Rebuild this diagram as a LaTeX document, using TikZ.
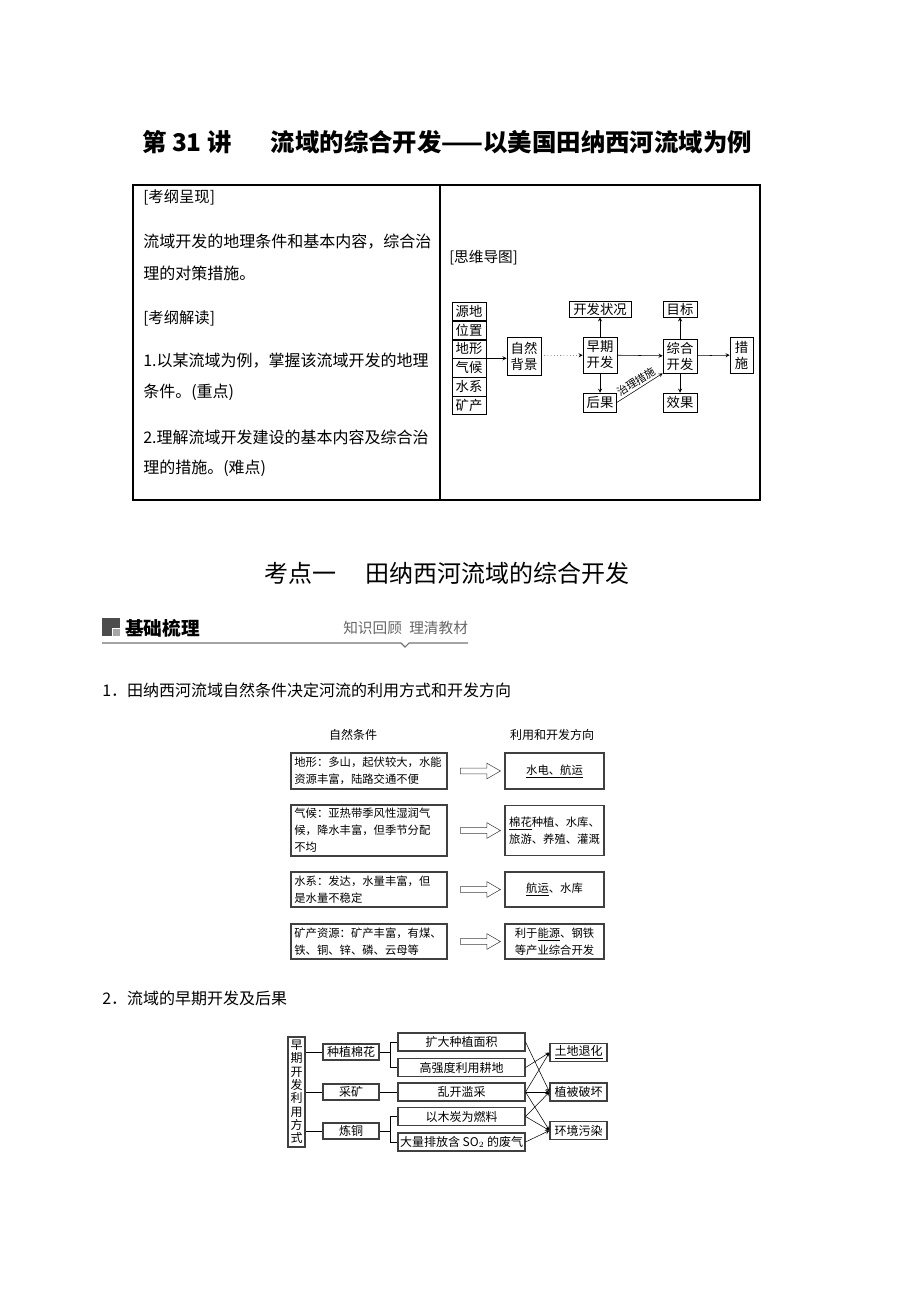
\documentclass[tikz,border=0pt]{standalone}
\usepackage{fontspec}
\setmainfont{Noto Sans CJK SC}
\usetikzlibrary{positioning,shapes.arrows}

\tikzstyle{mapbox} = [rectangle, draw=black, thin, minimum width=25.5pt, inner sep=0pt, align=center, font=\fontsize{10}{12}\selectfont]
\tikzstyle{cell} = [mapbox, minimum height=13.75pt]
\tikzstyle{condbox} = [rectangle, draw=black!75, line width=0.9pt, minimum width=117pt, text width=112pt, inner sep=2.5pt, align=left, font=\fontsize{8.5}{12.75}\selectfont]
\tikzstyle{usebox} = [rectangle, draw=black!75, line width=0.9pt, minimum width=74.25pt, inner sep=2pt, align=center, font=\fontsize{8.5}{12.75}\selectfont]
\tikzstyle{hollow} = [single arrow, draw=black!75, thin, minimum height=30pt, minimum width=11.25pt, single arrow head extend=3.75pt, single arrow tip angle=60, inner xsep=0pt, inner ysep=1.9pt]
\tikzstyle{waybox} = [rectangle, draw=black!75, line width=0.8pt, minimum height=12pt, inner sep=0pt, font=\fontsize{9}{10}\selectfont]
\tikzstyle{plain} = [anchor=west, inner sep=0pt]
\tikzstyle{arrow} = [thin,->,>=stealth]

\begin{document}
\begin{tikzpicture}[x=0.75pt, y=-0.75pt]
\useasboundingbox (0,0) rectangle (920,1302);

\node (title) at (447,142) {\fontsize{18.3}{20}\selectfont\bfseries 第 31 讲\hspace{1.6em}流域的综合开发——以美国田纳西河流域为例};

\draw [line width=0.8pt] (133,185) rectangle (760,500);
\draw [line width=0.8pt] (440,185) -- (440,500);

\node (t1) [plain, font=\fontsize{11.5}{13}\selectfont] at (143,197) {[考纲呈现]};
\node (t2) [plain, font=\fontsize{12}{14}\selectfont] at (143,242) {流域开发的地理条件和基本内容，综合治};
\node (t3) [plain, font=\fontsize{12}{14}\selectfont] at (143,273) {理的对策措施。};
\node (t4) [plain, font=\fontsize{11.5}{13}\selectfont] at (143,318) {[考纲解读]};
\node (t5) [plain, font=\fontsize{12}{14}\selectfont] at (143,361) {1.以某流域为例，掌握该流域开发的地理};
\node (t6) [plain, font=\fontsize{12}{14}\selectfont] at (143,392) {条件。(重点)};
\node (t7) [plain, font=\fontsize{12}{14}\selectfont] at (143,437) {2.理解流域开发建设的基本内容及综合治};
\node (t8) [plain, font=\fontsize{12}{14}\selectfont] at (143,468) {理的措施。(难点)};

\node (mm) [plain, font=\fontsize{11}{13}\selectfont] at (449,258) {[思维导图]};
\node (c1) [cell] at (469,311.2) {源地};
\node (c2) [cell, below=0pt of c1] {位置};
\node (c3) [cell, below=0pt of c2] {地形};
\node (c4) [cell, below=0pt of c3] {气候};
\node (c5) [cell, below=0pt of c4] {水系};
\node (c6) [cell, below=0pt of c5] {矿产};
\node (nat) [mapbox, minimum height=28.5pt] at (524,356) {自然\\背景};
\node (early) [mapbox, minimum height=27pt] at (600,355) {早期\\开发};
\node (state) [mapbox, minimum width=46.5pt, minimum height=12pt] at (600,309) {开发状况};
\node (result) [mapbox, minimum width=24.75pt, minimum height=14.25pt] at (600,402.5) {后果};
\node (comp) [mapbox, minimum height=25.5pt] at (680,356) {综合\\开发};
\node (goal) [mapbox, minimum height=12pt] at (680,309) {目标};
\node (effect) [mapbox, minimum height=14.25pt] at (680,402.5) {效果};
\node (meas) [mapbox, minimum width=17.25pt, minimum height=27pt] at (741.5,355) {措\\施};
\draw [arrow] (c3.south east) -- (c3.south east -| nat.west);
\draw [arrow, dotted] (nat) -- (early);
\draw [arrow] (early) -- (state);
\draw [arrow] (early) -- (result);
\draw [arrow] (early) -- (comp);
\draw [arrow] (result.east) -- (comp.south west) node [midway, sloped, above, inner sep=1.5pt, font=\fontsize{8}{9}\selectfont] {治理措施};
\draw [arrow] (comp) -- (goal);
\draw [arrow] (comp) -- (effect);
\draw [arrow] (comp) -- (meas);

\node (sec) at (447,573) {\fontsize{18}{20}\selectfont 考点一\hspace{1.2em}田纳西河流域的综合开发};
\node (icon) [fill=black!70, minimum size=13.5pt, inner sep=0pt] at (111,627) {};
\node (iconb) [fill=black!35, draw=white, minimum size=5.5pt, inner sep=0pt, anchor=south east] at (icon.south east) {};
\node (base) [plain, font=\fontsize{14}{16}\selectfont\bfseries] at (125,628) {基础梳理};
\node (tag) [plain, text=black!60, font=\fontsize{11}{13}\selectfont] at (343,628) {知识回顾\hspace{0.5em}理清教材};
\draw [black!55, line width=0.8pt] (102,643) -- (401,643) -- (405,647) -- (409,643) -- (468,643);

\node (h1) [plain, font=\fontsize{12}{14}\selectfont] at (102,690) {1．田纳西河流域自然条件决定河流的利用方式和开发方向};

\node (cond) [font=\fontsize{9}{10}\selectfont] at (353,735) {自然条件};
\node (dir) [font=\fontsize{9}{10}\selectfont] at (552,735) {利用和开发方向};
\node (l1) [condbox, minimum height=27pt] at (369,771) {地形：多山，起伏较大，水能\\资源丰富，陆路交通不便};
\node (l2) [condbox, minimum height=37pt] at (369,830.5) {气候：亚热带季风性湿润气\\候，降水丰富，但季节分配\\不均};
\node (l3) [condbox, minimum height=26.25pt] at (369,889.5) {水系：发达，水量丰富，但\\是水量不稳定};
\node (l4) [condbox, minimum height=26.25pt] at (369,941.5) {矿产资源：矿产丰富，有煤、\\铁、铜、锌、磷、云母等};
\node (a1) [hollow] at (478,771) {};
\node (a2) [hollow] at (478,830.5) {};
\node (a3) [hollow] at (478,889.5) {};
\node (a4) [hollow] at (478,941.5) {};
\node (r1) [usebox, minimum height=27pt] at (554.5,771) {\underline{水电、航运}};
\node (r2) [usebox, minimum height=37pt] at (554.5,830.5) {\underline{棉花}种植、水库、\\旅游、养殖、灌溉};
\node (r3) [usebox, minimum height=26.25pt] at (554.5,889.5) {\underline{航运}、水库};
\node (r4) [usebox, minimum height=26.25pt] at (554.5,941.5) {利于\underline{能源}、钢铁\\等产业综合开发};

\node (h2) [plain, font=\fontsize{12}{14}\selectfont] at (102,998) {2．流域的早期开发及后果};

\node (way) [rectangle, draw=black!75, line width=0.8pt, minimum width=12.75pt, minimum height=82.5pt, inner sep=0pt, align=center, font=\fontsize{9}{10}\selectfont] at (296.5,1092) {早\\期\\开\\发\\利\\用\\方\\式};
\node (cot) [waybox, minimum width=42pt] at (351,1052) {种植棉花};
\node (mine) [waybox, minimum width=42pt] at (351,1092) {采矿};
\node (cop) [waybox, minimum width=42pt] at (351,1131) {炼铜};
\node (w1) [waybox, minimum width=95.25pt, minimum height=13.5pt] at (461.5,1042) {扩大种植面积};
\node (w2) [waybox, minimum width=95.25pt, minimum height=13.5pt] at (461.5,1067.5) {高强度利用耕地};
\node (w3) [waybox, minimum width=95.25pt, minimum height=13.5pt] at (461.5,1092) {乱开滥采};
\node (w4) [waybox, minimum width=95.25pt, minimum height=13.5pt] at (461.5,1116.5) {以木炭为燃料};
\node (w5) [waybox, minimum width=95.25pt, minimum height=13.5pt] at (461.5,1142) {大量排放含 SO$_2$ 的废气};
\node (e1) [waybox, minimum width=42.75pt, minimum height=13.5pt] at (578.5,1052.5) {\underline{土地退化}};
\node (e2) [waybox, minimum width=42.75pt, minimum height=13.5pt] at (578.5,1092) {植被破坏};
\node (e3) [waybox, minimum width=42.75pt, minimum height=13.5pt] at (578.5,1130.5) {环境污染};
\draw (way.east |- cot) -- (cot);
\draw (way.east |- mine) -- (mine);
\draw (way.east |- cop) -- (cop);
\draw (cot.east) -- ++(11,0) |- (w1.west);
\draw (cot.east) -- ++(11,0) |- (w2.west);
\draw (mine) -- (w3);
\draw (cop.east) -- ++(11,0) |- (w4.west);
\draw (cop.east) -- ++(11,0) |- (w5.west);
\draw [arrow] (w1.east) -- (e2.west);
\draw [arrow] (w2.east) -- (e1.west);
\draw [arrow] (w3.east) -- (e1.west);
\draw [arrow] (w3.east) -- (e2.west);
\draw [arrow] (w3.east) -- (e3.west);
\draw [arrow] (w4.east) -- (e2.west);
\draw [arrow] (w4.east) -- (e3.west);
\draw [arrow] (w5.east) -- (e3.west);
\end{tikzpicture}
\end{document}
